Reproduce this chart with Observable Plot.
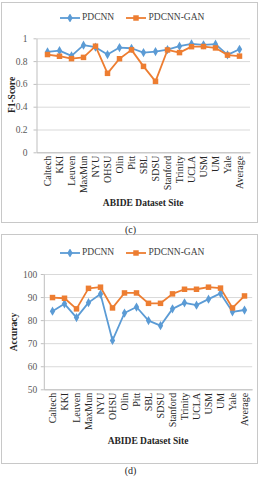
<!DOCTYPE html>
<html><head><meta charset="utf-8">
<script src="https://cdn.jsdelivr.net/npm/d3@7"></script>
<script src="https://cdn.jsdelivr.net/npm/@observablehq/plot@0.6"></script>
<style>
body{margin:0;width:261px;height:480px;overflow:hidden;background:#fff;font-family:"Liberation Serif","Times New Roman",serif;position:relative}
.box{position:absolute;border:1px solid #c8c8c8;box-sizing:border-box}
.chart{position:absolute;left:0}
.lg{position:absolute;font-size:9.5px;color:#404040;white-space:nowrap;line-height:10px}
.sw{position:absolute}
.cap{position:absolute;left:0;width:261px;text-align:center;font-size:10px;color:#262626;line-height:10px}
.ytitle{position:absolute;font-weight:bold;font-size:9.5px;color:#262626;transform:translate(-50%,-50%) rotate(-90deg);white-space:nowrap}
.xtitle{position:absolute;font-weight:bold;font-size:9.5px;color:#262626;transform:translate(-50%,-50%);white-space:nowrap}
</style></head>
<body>
<div class="box" style="left:1px;top:2px;width:257px;height:221px"></div>
<div class="box" style="left:1px;top:234px;width:257px;height:230px"></div>
<div id="c1" class="chart" style="top:0px"></div>
<div id="c2" class="chart" style="top:234px"></div>
<script>
const sites = ["Caltech","KKI","Leuven","MaxMun","NYU","OHSU","Olin","Pitt","SBL","SDSU","Stanford","Trinity","UCLA","USM","UM","Yale","Average"];
const seriesNames = ["PDCNN","PDCNN-GAN"];
const f1Pdcnn = [0.885,0.896,0.85,0.944,0.926,0.862,0.923,0.917,0.879,0.888,0.906,0.935,0.955,0.947,0.953,0.859,0.908];
const f1Gan   = [0.862,0.847,0.826,0.837,0.935,0.697,0.825,0.903,0.758,0.627,0.902,0.879,0.931,0.932,0.920,0.857,0.848];
const accPdcnn = [84.1,87.3,81.3,87.8,91.5,71.4,83.3,85.9,80.0,77.8,85.1,87.7,86.7,89.3,91.8,83.8,84.6];
const accGan   = [90.0,89.7,85.1,94.0,94.5,85.5,92.0,92.0,87.5,87.5,91.6,93.6,93.6,94.5,94.1,85.5,90.7];
const f1Ticks = [0,0.2,0.4,0.6,0.8,1];
const accTicks = [50,60,70,80,90,100];
const yTitles = ["F1-Score","Accuracy"];
const xTitle = "ABIDE Dataset Site";
const captions = ["(c)","(d)"];

const BLUE = "#5b9bd5", ORANGE = "#ed7d31";

function makeChart(el, a, b, ticks, o) {
  const A = sites.map((s,i)=>({site:s, v:a[i]}));
  const B = sites.map((s,i)=>({site:s, v:b[i]}));
  const w = o.width - o.ml - o.mr, h = o.height - o.mt - o.mb;
  const p = Plot.plot({
    width: o.width, height: o.height,
    marginTop: o.mt, marginBottom: o.mb, marginLeft: o.ml, marginRight: o.mr,
    style: {fontFamily: '"Liberation Serif","Times New Roman",serif', fontSize: "9.5px", color: "#595959", background: "transparent", overflow: "visible"},
    x: {type: "point", domain: sites, padding: 0.5},
    y: {domain: [ticks[0], ticks[ticks.length-1]]},
    marks: [
      Plot.gridY(ticks, {stroke: "#d9d9d9", strokeOpacity: 1}),
      Plot.frame({stroke: "#bfbfbf", strokeDasharray: `0 ${w+h} ${w+h}`}),
      Plot.axisY(ticks, {tickSize: 3, tickPadding: o.tp, stroke: "#bfbfbf", fill: "#595959", label: null, tickFormat: d => String(d)}),
      Plot.axisX({tickRotate: -90, tickSize: 0, tickPadding: 3, label: null, fontSize: 10, fill: "#262626"}),
      Plot.line(A, {x: "site", y: "v", stroke: BLUE, strokeWidth: 1.8}),
      Plot.line(B, {x: "site", y: "v", stroke: ORANGE, strokeWidth: 1.8}),
      Plot.dot(A, {x: "site", y: "v", symbol: "diamond", r: 2.8, fill: BLUE}),
      Plot.dot(B, {x: "site", y: "v", symbol: "square", r: 3.1, fill: ORANGE})
    ]
  });
  el.appendChild(p);
}

makeChart(document.getElementById("c1"), f1Pdcnn, f1Gan, f1Ticks,
  {width: 261, height: 225, mt: 38.3, mb: 72.7, ml: 36.5, mr: 11, tp: 6.5});
makeChart(document.getElementById("c2"), accPdcnn, accGan, accTicks,
  {width: 261, height: 229, mt: 40, mb: 73.7, ml: 43.8, mr: 8.8, tp: 4});

function legend(y) {
  const items = [{x: 59.5, tx: 82, c: BLUE, sym: d3.symbolDiamond, size: 25, name: seriesNames[0]},
                 {x: 126, tx: 148.5, c: ORANGE, sym: d3.symbolSquare, size: 30, name: seriesNames[1]}];
  for (const it of items) {
    const svg = d3.create("svg").attr("class","sw").attr("width",20).attr("height",8)
      .style("left", it.x+"px").style("top", (y-4)+"px");
    svg.append("line").attr("x1",0).attr("x2",20).attr("y1",4).attr("y2",4).attr("stroke",it.c).attr("stroke-width",1.8);
    svg.append("path").attr("transform","translate(10,4)").attr("d", d3.symbol(it.sym, it.size)()).attr("fill", it.c);
    document.body.appendChild(svg.node());
    const t = document.createElement("div");
    t.className = "lg"; t.textContent = it.name;
    t.style.left = it.tx+"px"; t.style.top = (y-5.5)+"px";
    document.body.appendChild(t);
  }
}
legend(17.7);
legend(252.7);

function addDiv(cls, text, x, y) {
  const d = document.createElement("div");
  d.className = cls; d.textContent = text;
  if (x !== null) d.style.left = x+"px";
  d.style.top = y+"px";
  document.body.appendChild(d);
}
addDiv("ytitle", yTitles[0], 11.7, 95.3);
addDiv("xtitle", xTitle, 143.2, 202.7);
addDiv("ytitle", yTitles[1], 14, 331.5);
addDiv("xtitle", xTitle, 148, 440.7);
addDiv("cap", captions[0], null, 225);
addDiv("cap", captions[1], null, 466);
</script>
</body></html>
